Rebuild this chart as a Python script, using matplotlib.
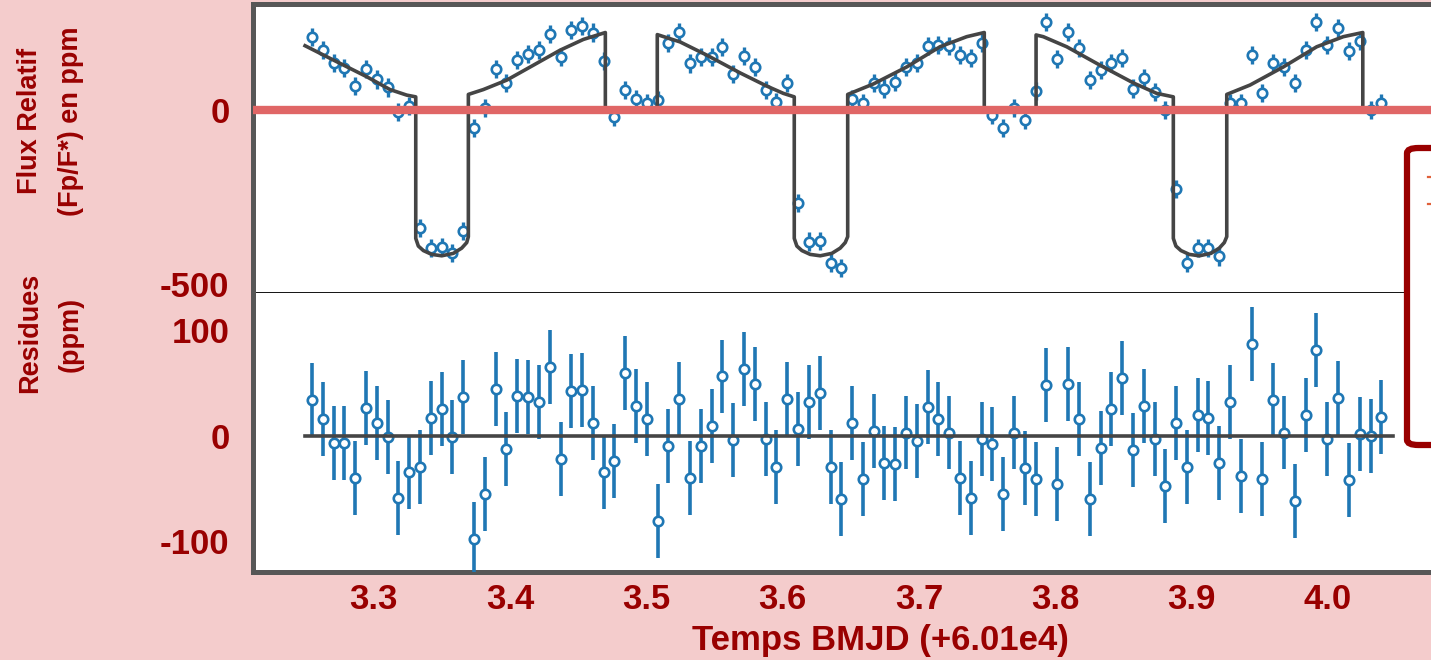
import matplotlib
matplotlib.use("Agg")
import matplotlib.pyplot as plt
from matplotlib import font_manager
from matplotlib.patches import FancyBboxPatch
from matplotlib.lines import Line2D

# ---------------- data ----------------
time = [3.2547, 3.2626, 3.2705, 3.2785, 3.2864, 3.2943, 3.3022, 3.3102, 3.3181, 3.3260,
        3.3339, 3.3419, 3.3498, 3.3577, 3.3656, 3.3736, 3.3815, 3.3894, 3.3973, 3.4053,
        3.4132, 3.4211, 3.4290, 3.4370, 3.4449, 3.4528, 3.4607, 3.4686, 3.4766, 3.4845,
        3.4924, 3.5003, 3.5083, 3.5162, 3.5241, 3.5320, 3.5400, 3.5479, 3.5558, 3.5637,
        3.5717, 3.5796, 3.5875, 3.5954, 3.6034, 3.6113, 3.6192, 3.6271, 3.6351, 3.6430,
        3.6509, 3.6588, 3.6667, 3.6747, 3.6826, 3.6905, 3.6984, 3.7064, 3.7143, 3.7222,
        3.7301, 3.7381, 3.7460, 3.7539, 3.7618, 3.7698, 3.7777, 3.7856, 3.7935, 3.8015,
        3.8094, 3.8173, 3.8252, 3.8332, 3.8411, 3.8490, 3.8569, 3.8649, 3.8728, 3.8807,
        3.8886, 3.8965, 3.9045, 3.9124, 3.9203, 3.9282, 3.9362, 3.9441, 3.9520, 3.9599,
        3.9679, 3.9758, 3.9837, 3.9916, 3.9996, 4.0075, 4.0154, 4.0233, 4.0313, 4.0392]

flux = [210, 172, 136, 120, 69, 118, 88, 65, -5, 11,
        -338, -396, -393, -410, -347, -51, 5, 118, 78, 144,
        160, 172, 220, 153, 230, 242, 223, 141, -21, 59,
        31, 20, 29, 192, 225, 134, 153, 153, 182, 105,
        155, 124, 59, 24, 77, -266, -378, -376, -441, -453,
        31, 19, 77, 62, 81, 124, 136, 184, 187, 184,
        158, 151, 192, -14, -51, 6, -28, 55, 252, 146,
        225, 179, 86, 115, 136, 149, 62, 91, 53, 0,
        -227, -441, -397, -397, -421, 19, 21, 158, 48, 136,
        124, 77, 174, 252, 187, 235, 170, 199, 0, 21]

flux_err = [26] * 100

residuals = [34, 16, -7, -7, -40, 26, 12, -1, -59, -34,
             -30, 17, 25, -1, 37, -98, -55, 44, -13, 38,
             37, 32, 65, -22, 42, 43, 12, -34, -24, 59,
             28, 16, -81, -10, 35, -40, -10, 9, 56, -4,
             63, 49, -3, -30, 35, 6, 32, 40, -30, -60,
             12, -41, 4, -26, -27, 3, -5, 27, 16, 3,
             -40, -59, -3, -8, -55, 3, -31, -41, 48, -46,
             49, 16, -60, -12, 25, 55, -14, 28, -3, -48,
             12, -30, 20, 17, -26, 32, -38, 87, -41, 34,
             3, -62, 20, 81, -3, 36, -42, 2, 0, 18]

res_err = [35] * 100

model_time = [3.2496, 3.2703, 3.2948, 3.3119, 3.3242, 3.3308,
              3.3308, 3.3327, 3.3364, 3.3425, 3.3499, 3.3584, 3.3645, 3.3682, 3.3694,
              3.3694, 3.3804, 3.3975, 3.4171, 3.4366, 3.4537, 3.4699,
              3.4699, 3.5080,
              3.5080, 3.5247, 3.5443, 3.5687, 3.5883, 3.6005, 3.6085,
              3.6085, 3.6104, 3.6141, 3.6202, 3.6276, 3.6361, 3.6422, 3.6459, 3.6477,
              3.6477, 3.6665, 3.6910, 3.7154, 3.7350, 3.7479,
              3.7479, 3.7859,
              3.7859, 3.7912, 3.8084, 3.8328, 3.8573, 3.8744, 3.8866,
              3.8866, 3.8885, 3.8922, 3.8983, 3.9057, 3.9142, 3.9203, 3.9240, 3.9258,
              3.9258, 3.9429, 3.9673, 3.9918, 4.0113, 4.0256,
              4.0256, 4.0476]

model_flux = [185, 144, 96, 59, 43, 38,
              -369, -391, -404, -415, -419, -412, -397, -381, -364,
              45, 59, 86, 129, 172, 203, 223,
              0, 0,
              217, 196, 158, 107, 69, 48, 38,
              -369, -391, -404, -415, -419, -412, -397, -381, -364,
              45, 75, 124, 182, 211, 223,
              0, 0,
              216, 211, 182, 129, 78, 48, 38,
              -369, -391, -404, -415, -419, -412, -397, -381, -364,
              45, 72, 124, 182, 211, 223,
              0, 0]

xtick_values = [3.3, 3.4, 3.5, 3.6, 3.7, 3.8, 3.9, 4.0]
xtick_labels = ["3.3", "3.4", "3.5", "3.6", "3.7", "3.8", "3.9", "4.0"]
flux_ticks = [0, -500]
flux_tick_labels = ["0", "-500"]
res_ticks = [100, 0, -100]
res_tick_labels = ["100", "0", "-100"]

# ---------------- style ----------------
W, H = 1431, 660
BG = "#f4cccc"
DARKRED = "#990000"
BLUE = "#1f77b4"
GRAY = "#454545"
FRAME = "#575757"
FONT = ["Liberation Sans", "DejaVu Sans"]
FS = 25

installed = {f.name for f in font_manager.fontManager.ttflist}
if "Liberation Sans Narrow" in installed:
    YFONT = ["Liberation Sans Narrow", "DejaVu Sans"]
    FS_Y = 23
else:
    YFONT = FONT
    FS_Y = 19.5

plt.rcParams["font.family"] = FONT


def fx(px):
    return px / W


def fy(py):
    return 1 - py / H


fig = plt.figure(figsize=(W / 100, H / 100), dpi=100, facecolor=BG)

left_px, right_px = 253, 1507
top_px, mid_px, bot_px = 4, 293, 572
ax1 = fig.add_axes([fx(left_px), fy(mid_px), (right_px - left_px) / W, (mid_px - top_px) / H])
ax2 = fig.add_axes([fx(left_px), fy(bot_px), (right_px - left_px) / W, (bot_px - mid_px) / H],
                   sharex=ax1)

xlim = (3.2114, 4.1314)

# top panel
ax1.errorbar(time, flux, yerr=flux_err, fmt="o", color=BLUE, ecolor=BLUE,
             elinewidth=2.4, capsize=0, markersize=6.8, markerfacecolor="white",
             markeredgecolor=BLUE, markeredgewidth=1.9, zorder=3)
ax1.plot(model_time, model_flux, color=GRAY, lw=2.6, zorder=4, solid_joinstyle="round")
ax1.axhline(0, color="#e06666", lw=6, zorder=5)
ax1.set_ylim(-526, 305)
ax1.set_yticks(flux_ticks)
ax1.set_yticklabels(flux_tick_labels)

# bottom panel
ax2.errorbar(time, residuals, yerr=res_err, fmt="o", color=BLUE, ecolor=BLUE,
             elinewidth=2.6, capsize=0, markersize=6.8, markerfacecolor="white",
             markeredgecolor=BLUE, markeredgewidth=1.9, zorder=3)
ax2.plot([model_time[0], model_time[-1]], [0, 0], color=GRAY, lw=2.6, zorder=4)
ax2.set_ylim(-129, 135)
ax2.set_yticks(res_ticks)
ax2.set_yticklabels(res_tick_labels)
ax2.set_xlim(*xlim)
ax2.set_xticks(xtick_values)
ax2.set_xticklabels(xtick_labels)

for ax in (ax1, ax2):
    ax.set_facecolor("white")
    ax.tick_params(axis="both", length=0, labelsize=FS, labelcolor=DARKRED)
    ax.tick_params(axis="y", pad=17)
    ax.tick_params(axis="x", pad=8)
    for lab in ax.get_xticklabels() + ax.get_yticklabels():
        lab.set_fontweight("bold")
    ax.spines["right"].set_visible(False)
    ax.spines["left"].set_color(FRAME)
    ax.spines["left"].set_linewidth(3.6)

ax1.tick_params(axis="x", labelbottom=False)
ax1.spines["top"].set_color(FRAME)
ax1.spines["top"].set_linewidth(3.6)
ax1.spines["bottom"].set_color("black")
ax1.spines["bottom"].set_linewidth(1.3)
ax2.spines["top"].set_visible(False)
ax2.spines["bottom"].set_color(FRAME)
ax2.spines["bottom"].set_linewidth(3.6)
ax1.spines["bottom"].set_zorder(6)

ax2.set_xlabel("Temps BMJD (+6.01e4)", fontsize=FS, color=DARKRED, fontweight="bold",
               labelpad=6)

ylabel_kw = dict(rotation=90, ha="center", va="center", fontsize=FS_Y, color=DARKRED,
                 fontweight="bold", family=YFONT)
fig.text(fx(30), fy(121), "Flux Relatif", **ylabel_kw)
fig.text(fx(71), fy(121), "(Fp/F*) en ppm", **ylabel_kw)
fig.text(fx(30), fy(333), "Residues", **ylabel_kw)
fig.text(fx(71), fy(334), "(ppm)", **ylabel_kw)

# legend box (cut off at the right edge)
box = FancyBboxPatch((fx(1407), fy(445)), fx(1520) - fx(1407), (445 - 148) / H,
                     boxstyle="round,pad=0,rounding_size=0.008",
                     transform=fig.transFigure, facecolor="white",
                     edgecolor=DARKRED, linewidth=4.5, zorder=10)
fig.add_artist(box)
for py in (177, 204):
    fig.add_artist(Line2D([fx(1427.5), fx(1431)], [fy(py), fy(py)],
                          transform=fig.transFigure, color="#e0603a", lw=1.6, zorder=11))

fig.savefig("out.png", dpi=100, facecolor=BG)
